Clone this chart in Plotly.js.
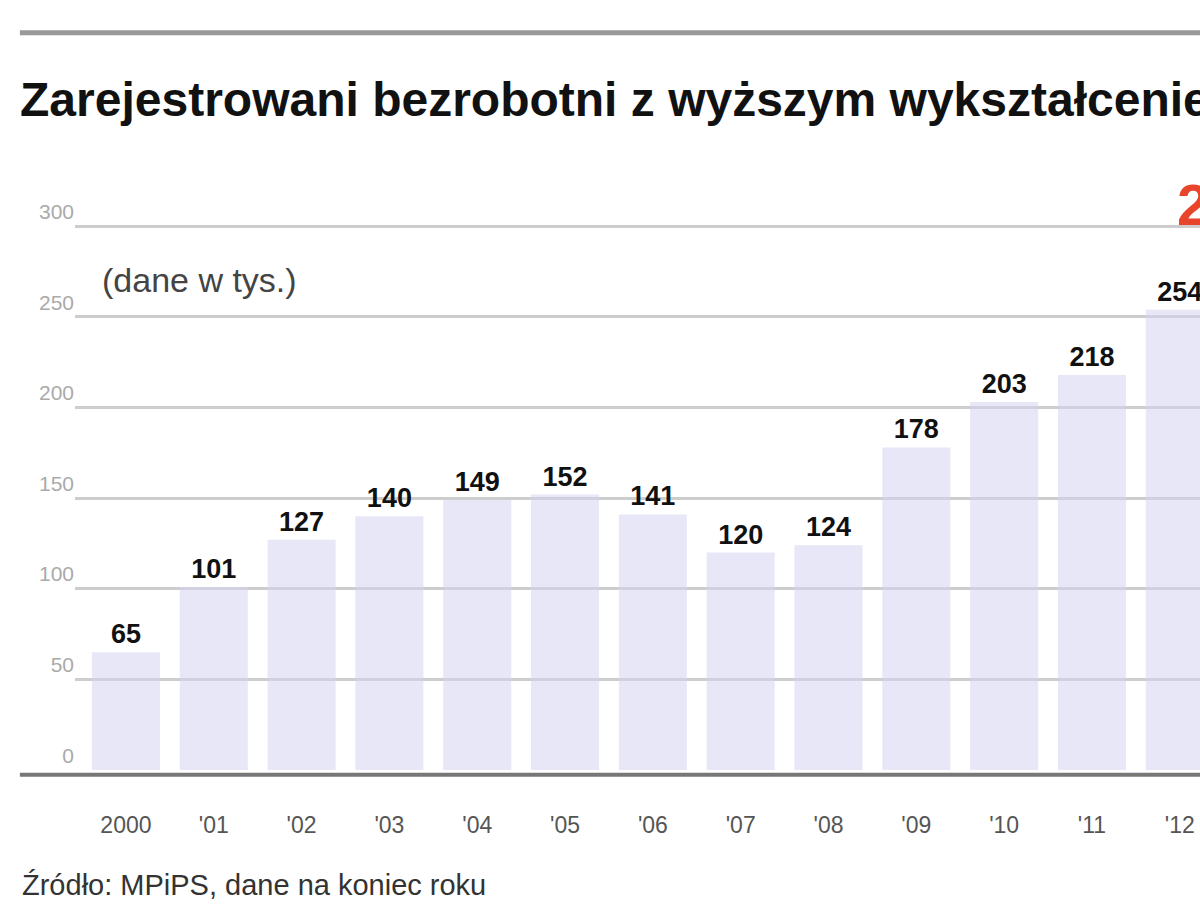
<!DOCTYPE html>
<html>
<head>
<meta charset="utf-8">
<script src="https://cdn.plot.ly/plotly-3.0.1.min.js"></script>
<style>
  html, body { margin: 0; padding: 0; background: #fff; }
  #chart { width: 1200px; height: 923px; }
</style>
</head>
<body>
<div id="chart"></div>
<script>
// registered unemployed with higher education, end of year (thousands)
const years = ["2000", "'01", "'02", "'03", "'04", "'05", "'06", "'07", "'08", "'09", "'10", "'11", "'12"];
const unemployed = [65, 101, 127, 140, 149, 152, 141, 120, 124, 178, 203, 218, 254];
const yTicks = [0, 50, 100, 150, 200, 250, 300];

const FONT = "Liberation Sans, Arial, sans-serif";
const BAR = "rgba(212,212,240,0.55)";
const GRID = "rgb(205,205,205)";

var data = [{
	type: "bar",
	x: years,
	y: unemployed,
	text: unemployed.map(String),
	textposition: "outside",
	cliponaxis: false,
	textfont: { family: FONT, size: 27, color: "#111", weight: "bold" },
	marker: { color: BAR, line: { width: 0 } },
	hoverinfo: "x+y",
}];

var layout = {
	width: 1200,
	height: 923,
	showlegend: false,
	bargap: 0.225,
	margin: { l: 75, r: 0, t: 190, b: 153 },
	paper_bgcolor: "#fff",
	plot_bgcolor: "#fff",
	font: { family: FONT, color: "#666" },
	title: {
		text: "Zarejestrowani bezrobotni z wyższym wykształceniem",
		x: 0.0167,
		xanchor: "left",
		y: 0.892,
		yanchor: "middle",
		font: { family: FONT, size: 48, color: "#111", weight: "bold" },
	},
	xaxis: {
		type: "category",
		range: [-0.58, 12.23],
		showgrid: false,
		zeroline: false,
		showline: false,
		ticks: "outside",
		ticklen: 34,
		tickcolor: "rgba(0,0,0,0)",
		tickfont: { family: FONT, size: 23, color: "#555" },
	},
	yaxis: {
		range: [0, 320],
		tickvals: yTicks,
		ticktext: yTicks.map(String),
		ticklabelposition: "outside top",
		showgrid: true,
		gridcolor: GRID,
		gridwidth: 3,
		zeroline: false,
		showline: false,
		ticks: "",
		tickfont: { family: FONT, size: 21, color: "#aaa" },
	},
	shapes: [
		// thick rule above the title
		{ type: "line", xref: "paper", yref: "paper", x0: -0.049, x1: 1, y0: 1.271, y1: 1.271,
		  line: { color: "#999", width: 5 } },
		// baseline
		{ type: "line", xref: "paper", yref: "paper", x0: -0.049, x1: 1, y0: -0.008, y1: -0.008,
		  line: { color: "#777", width: 4 } },
	],
	annotations: [
		{ text: "(dane w tys.)", xref: "paper", yref: "paper", x: 0.022, y: 0.845,
		  xanchor: "left", yanchor: "middle", showarrow: false,
		  font: { family: FONT, size: 34, color: "#444" } },
		{ text: "2012", xref: "paper", yref: "paper", x: 0.978, y: 0.975,
		  xanchor: "left", yanchor: "middle", showarrow: false,
		  font: { family: FONT, size: 58, color: "#e8452c", weight: "bold" } },
		{ text: "Źródło: MPiPS, dane na koniec roku", xref: "paper", yref: "paper", x: -0.049, y: -0.198,
		  xanchor: "left", yanchor: "middle", showarrow: false,
		  font: { family: FONT, size: 29, color: "#333" } },
	],
};

Plotly.newPlot("chart", data, layout, { displayModeBar: false, staticPlot: true });
</script>
</body>
</html>
